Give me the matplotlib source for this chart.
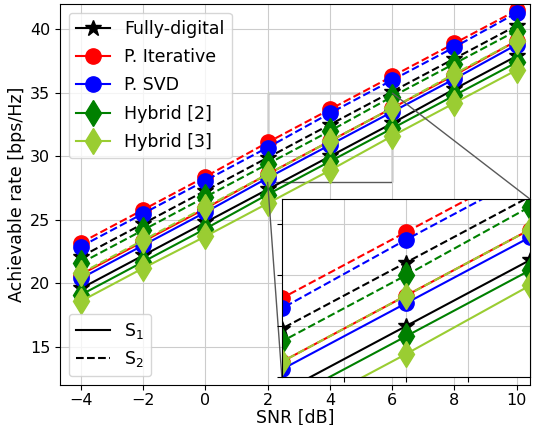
import matplotlib.pyplot as plt
from matplotlib.lines import Line2D
from mpl_toolkits.axes_grid1.inset_locator import mark_inset

# SNR points
snr = [-4, -2, 0, 2, 4, 6, 8, 10]

# S1 (solid)
fd_s1 = [19.6, 22.2, 24.8, 27.4, 30.0, 32.6, 35.3, 37.9]
pit_s1 = [20.7, 23.3, 25.9, 28.6, 31.2, 33.8, 36.4, 39.1]
psvd_s1 = [20.4, 23.0, 25.6, 28.3, 30.9, 33.5, 36.1, 38.8]
hyb2_s1 = [19.1, 21.7, 24.3, 27.0, 29.6, 32.2, 34.8, 37.4]
hyb3_s1 = [18.6, 21.2, 23.7, 26.3, 28.9, 31.6, 34.2, 36.8]

# S2 (dashed)
fd_s2 = [22.1, 24.7, 27.3, 29.9, 32.5, 35.1, 37.7, 40.3]
pit_s2 = [23.2, 25.8, 28.4, 31.1, 33.7, 36.3, 38.9, 41.5]
psvd_s2 = [22.9, 25.5, 28.1, 30.7, 33.4, 36.0, 38.6, 41.3]
hyb2_s2 = [21.6, 24.2, 26.8, 29.4, 32.0, 34.7, 37.3, 39.9]
hyb3_s2 = [20.8, 23.4, 26.0, 28.6, 31.2, 33.8, 36.5, 39.1]

names = ["Fully-digital", "P. Iterative", "P. SVD", "Hybrid [2]", "Hybrid [3]"]
colors = ["black", "red", "blue", "green", "yellowgreen"]
markers = ["*", "o", "o", "d", "d"]
msizes = [12, 11, 11, 13, 13]
s1_data = [fd_s1, pit_s1, psvd_s1, hyb2_s1, hyb3_s1]
s2_data = [fd_s2, pit_s2, psvd_s2, hyb2_s2, hyb3_s2]


def draw(ax):
    for i in range(len(names)):
        ax.plot(snr, s1_data[i], color=colors[i], marker=markers[i],
                markersize=msizes[i], linestyle="-", lw=1.5)
    for i in range(len(names)):
        ax.plot(snr, s2_data[i], color=colors[i], marker=markers[i],
                markersize=msizes[i], linestyle="--", lw=1.5)


fig = plt.figure(figsize=(5.34, 4.25), dpi=100)
ax = fig.add_axes([0.1124, 0.0941, 0.8801, 0.8965])
draw(ax)
ax.set_xlim(-4.67, 10.43)
ax.set_ylim(12, 42)
ax.set_xticks([-4, -2, 0, 2, 4, 6, 8, 10])
ax.set_yticks([15, 20, 25, 30, 35, 40])
ax.tick_params(labelsize=11.5)
ax.tick_params(axis="x", pad=2.5)
ax.grid(True, color="0.8")
ax.set_xlabel("SNR [dB]", fontsize=12.5, labelpad=0)
ax.set_ylabel("Achievable rate [bps/Hz]", fontsize=12.5, labelpad=3)

handles = [Line2D([], [], color=colors[i], marker=markers[i],
                  markersize=msizes[i], lw=1.5) for i in range(len(names))]
leg1 = ax.legend(handles, names, loc="upper left", fontsize=12.5,
                 handlelength=2.0, borderaxespad=0.5, labelspacing=0.6)
ax.add_artist(leg1)
style_handles = [Line2D([], [], color="black", ls="-", lw=1.5),
                 Line2D([], [], color="black", ls="--", lw=1.5)]
ax.legend(style_handles, ["S$_1$", "S$_2$"], loc="lower left", fontsize=12.5,
          handlelength=2.0, borderaxespad=0.5)

# zoomed inset
axins = ax.inset_axes([0.472, 0.021, 0.528, 0.467])
draw(axins)
axins.set_xlim(2, 6)
axins.set_ylim(28, 35)
axins.set_xticks([3, 4, 5])
axins.set_yticks([28, 30, 32, 34])
axins.set_xticklabels([])
axins.set_yticklabels([])
axins.grid(True, color="0.8")
mark_inset(ax, axins, loc1=1, loc2=3, fc="none", ec="0.35")

fig.savefig("out.png", dpi=100)
